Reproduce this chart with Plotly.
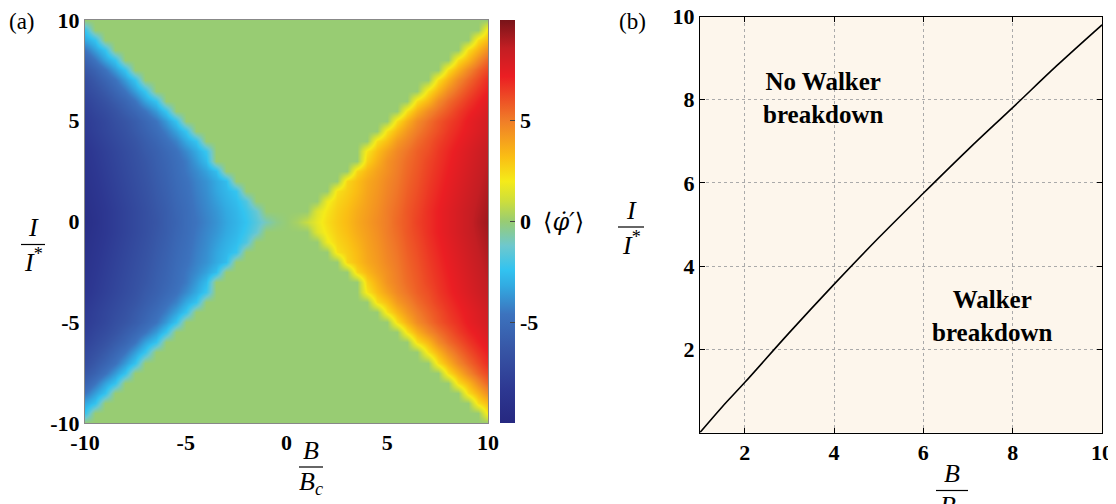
import plotly.graph_objects as go

# page body has an 8px margin: figure occupies window pixels 8..1116 x 8..504
OFF = 8
W, H = 1116 - OFF, 504 - OFF

# ---------------- data ----------------
# Panel (a): <phi'> read on a 0.5 grid, quadrant B>=0, I>=0 (picture is mirror symmetric)
B_quad = [0, 0.5, 1, 1.5, 2, 2.5, 3, 3.5, 4, 4.5, 5, 5.5, 6, 6.5, 7, 7.5, 8, 8.5, 9, 9.5, 10]
I_quad = [0, 0.5, 1, 1.5, 2, 2.5, 3, 3.5, 4, 4.5, 5, 5.5, 6, 6.5, 7, 7.5, 8, 8.5, 9, 9.5, 10]
phi_I00 = [0, 0.3, 0.9, 1.7, 2.4, 2.9, 3.3, 3.8, 4.2, 4.6, 5.0, 5.5, 5.9, 6.4, 6.8, 7.2, 7.6, 8.0, 8.4, 8.9, 9.3]
phi_I05 = [0, 0, 0, 1.4, 2.2, 2.8, 3.2, 3.7, 4.1, 4.5, 5.0, 5.4, 5.9, 6.3, 6.8, 7.2, 7.6, 8.0, 8.4, 8.8, 9.2]
phi_I10 = [0, 0, 0, 0, 1.8, 2.6, 3.0, 3.5, 4.0, 4.4, 4.9, 5.3, 5.8, 6.2, 6.7, 7.1, 7.5, 7.9, 8.3, 8.7, 9.1]
phi_I15 = [0, 0, 0, 0, 0, 2.3, 2.8, 3.3, 3.9, 4.3, 4.8, 5.2, 5.7, 6.1, 6.6, 7.0, 7.4, 7.8, 8.2, 8.6, 9.0]
phi_I20 = [0, 0, 0, 0, 0, 0, 2.6, 3.2, 3.8, 4.2, 4.7, 5.1, 5.6, 6.0, 6.5, 6.9, 7.3, 7.7, 8.1, 8.5, 8.9]
phi_I25 = [0, 0, 0, 0, 0, 0, 0, 2.6, 3.4, 4.0, 4.5, 5.0, 5.5, 5.9, 6.4, 6.8, 7.2, 7.6, 8.0, 8.4, 8.8]
phi_I30 = [0, 0, 0, 0, 0, 0, 0, 0, 2.7, 3.6, 4.4, 4.9, 5.4, 5.8, 6.3, 6.7, 7.1, 7.5, 7.9, 8.3, 8.7]
phi_I35 = [0, 0, 0, 0, 0, 0, 0, 0, 2.2, 3.2, 4.0, 4.7, 5.2, 5.7, 6.1, 6.6, 7.0, 7.4, 7.8, 8.2, 8.6]
phi_I40 = [0, 0, 0, 0, 0, 0, 0, 0, 0, 2.4, 3.2, 4.2, 4.8, 5.4, 5.9, 6.4, 6.8, 7.2, 7.6, 8.0, 8.4]
phi_I45 = [0, 0, 0, 0, 0, 0, 0, 0, 0, 0, 2.3, 3.4, 4.3, 5.0, 5.6, 6.1, 6.6, 7.0, 7.4, 7.8, 8.2]
phi_I50 = [0, 0, 0, 0, 0, 0, 0, 0, 0, 0, 0, 2.4, 3.6, 4.6, 5.3, 5.9, 6.4, 6.8, 7.3, 7.7, 8.1]
phi_I55 = [0, 0, 0, 0, 0, 0, 0, 0, 0, 0, 0, 0, 2.3, 3.6, 4.6, 5.3, 5.9, 6.5, 7.0, 7.4, 7.9]
phi_I60 = [0, 0, 0, 0, 0, 0, 0, 0, 0, 0, 0, 0, 0, 2.4, 3.4, 4.6, 5.4, 6.0, 6.6, 7.1, 7.6]
phi_I65 = [0, 0, 0, 0, 0, 0, 0, 0, 0, 0, 0, 0, 0, 0, 2.3, 3.5, 4.6, 5.4, 6.1, 6.7, 7.2]
phi_I70 = [0, 0, 0, 0, 0, 0, 0, 0, 0, 0, 0, 0, 0, 0, 0, 2.4, 3.6, 4.7, 5.5, 6.2, 6.9]
phi_I75 = [0, 0, 0, 0, 0, 0, 0, 0, 0, 0, 0, 0, 0, 0, 0, 0, 2.4, 3.6, 4.7, 5.6, 6.3]
phi_I80 = [0, 0, 0, 0, 0, 0, 0, 0, 0, 0, 0, 0, 0, 0, 0, 0, 0, 2.4, 3.4, 4.6, 5.6]
phi_I85 = [0, 0, 0, 0, 0, 0, 0, 0, 0, 0, 0, 0, 0, 0, 0, 0, 0, 0, 2.4, 3.5, 4.6]
phi_I90 = [0, 0, 0, 0, 0, 0, 0, 0, 0, 0, 0, 0, 0, 0, 0, 0, 0, 0, 0, 2.4, 3.3]
phi_I95 = [0, 0, 0, 0, 0, 0, 0, 0, 0, 0, 0, 0, 0, 0, 0, 0, 0, 0, 0, 0, 2.3]
phi_I100 = [0, 0, 0, 0, 0, 0, 0, 0, 0, 0, 0, 0, 0, 0, 0, 0, 0, 0, 0, 0, 0]
phi_rows = [phi_I00, phi_I05, phi_I10, phi_I15, phi_I20, phi_I25, phi_I30,
            phi_I35, phi_I40, phi_I45, phi_I50, phi_I55, phi_I60, phi_I65,
            phi_I70, phi_I75, phi_I80, phi_I85, phi_I90, phi_I95, phi_I100]

# Panel (b): Walker breakdown threshold
B_line = [1, 1.5, 2, 3, 4, 5, 6, 7, 8, 9, 10]
I_line = [0, 0.62, 1.2, 2.4, 3.56, 4.68, 5.75, 6.8, 7.81, 8.83, 9.8]

cbar_ticks = [-5, 0, 5]
a_ticks = [-10, -5, 0, 5, 10]
b_ticks = [2, 4, 6, 8, 10]

# ---------------- build full grid by mirroring ----------------
B_full = [-b for b in reversed(B_quad[1:])] + B_quad
I_full = [-i for i in reversed(I_quad[1:])] + I_quad
rows_full = list(reversed(phi_rows[1:])) + phi_rows
z = []
for r in rows_full:
    z.append([-v for v in reversed(r[1:])] + r)

jet_muted = [
    [0.00, "rgb(38,40,128)"],
    [0.08, "rgb(45,55,145)"],
    [0.18, "rgb(55,85,165)"],
    [0.27, "rgb(60,115,190)"],
    [0.34, "rgb(50,170,225)"],
    [0.38, "rgb(50,195,240)"],
    [0.44, "rgb(110,200,205)"],
    [0.50, "rgb(152,204,115)"],
    [0.55, "rgb(205,222,60)"],
    [0.60, "rgb(245,235,25)"],
    [0.66, "rgb(250,190,20)"],
    [0.75, "rgb(240,125,40)"],
    [0.86, "rgb(235,30,35)"],
    [0.93, "rgb(195,30,35)"],
    [1.00, "rgb(120,20,25)"],
]

def px_x(p):
    return (p - OFF) / W

def px_y(p):
    return 1 - (p - OFF) / H

fig = go.Figure()

fig.add_trace(go.Heatmap(
    x=B_full, y=I_full, z=z, zmin=-10, zmax=10, zsmooth="best",
    colorscale=jet_muted, xaxis="x", yaxis="y",
    colorbar=dict(
        x=px_x(500), xanchor="left", thickness=15, xpad=0, ypad=0,
        lenmode="fraction", len=403 / H, y=px_y(221.5), yanchor="middle",
        outlinewidth=0, tickvals=cbar_ticks, ticktext=[str(t) for t in cbar_ticks],
        ticks="inside", ticklen=5, tickcolor="#444",
        tickfont=dict(family="Liberation Serif", size=22, color="black", weight="bold"),
    ),
))

fig.add_trace(go.Scatter(
    x=B_line, y=I_line, mode="lines", line=dict(color="black", width=1.6, shape="spline"),
    xaxis="x2", yaxis="y2", showlegend=False,
))

tickfont = dict(family="Liberation Serif", size=22, color="black", weight="bold")
common = dict(tickfont=tickfont, zeroline=False, showline=True, linewidth=1,
              automargin=False, ticklabeloverflow="allow")

fig.update_layout(
    width=W, height=H, margin=dict(l=0, r=0, t=0, b=0, autoexpand=False),
    paper_bgcolor="white", plot_bgcolor="white", showlegend=False,
    xaxis=dict(domain=[px_x(85), px_x(488)], range=[-10, 10], tickvals=a_ticks,
               ticktext=[str(t) for t in a_ticks], showgrid=False,
               linecolor="#888", mirror=True, ticks="", anchor="y", **common),
    yaxis=dict(domain=[px_y(423), px_y(20)], range=[-10, 10], tickvals=a_ticks,
               ticktext=[str(t) for t in a_ticks], showgrid=False,
               linecolor="#888", mirror=True, ticks="", anchor="x", **common),
    xaxis2=dict(domain=[px_x(700), px_x(1102)], range=[1, 10], tickvals=b_ticks,
                ticktext=[str(t) for t in b_ticks],
                showgrid=True, gridcolor="#aaa", griddash="dot", gridwidth=1,
                linecolor="black", mirror="ticks",
                ticks="inside", ticklen=5, tickcolor="black", anchor="y2", **common),
    yaxis2=dict(domain=[px_y(432.5), px_y(16.5)], range=[0, 10], tickvals=b_ticks,
                ticktext=[str(t) for t in b_ticks],
                showgrid=True, gridcolor="#aaa", griddash="dot", gridwidth=1,
                linecolor="black", mirror="ticks",
                ticks="inside", ticklen=5, tickcolor="black", anchor="x2", **common),
)

# cream background of panel (b)
fig.add_shape(type="rect", xref="x2 domain", yref="y2 domain", x0=0, x1=1, y0=0, y1=1,
              fillcolor="#FDF6EC", line=dict(width=0), layer="below")

ann = []
serif = "Liberation Serif"

def text(x, y, s, size=24, family=serif, **kw):
    ann.append(dict(x=px_x(x), y=px_y(y), xref="paper", yref="paper", text=s,
                    showarrow=False, font=dict(family=family, size=size, color="black"),
                    xanchor="center", yanchor="middle", **kw))

def frac(xc, ybar, num, den, half):
    text(xc, ybar - 17, num, 26)
    text(xc, ybar + 16, den, 26)
    fig.add_shape(type="line", xref="paper", yref="paper",
                  x0=px_x(xc - half), x1=px_x(xc + half), y0=px_y(ybar), y1=px_y(ybar),
                  line=dict(color="black", width=1.2))

text(22, 21, "(a)", 23)
text(632, 22, "(b)", 23)

frac(33, 244.5, "<i>I</i>", "<i>I</i><sup>*</sup>", 12)
frac(311, 467, "<i>B</i>", "<i>B</i><sub><i>c</i></sub>", 12)
frac(631, 227, "<i>I</i>", "<i>I</i><sup>*</sup>", 13)
frac(952, 490.5, "<i>B</i>", "<i>B</i><sub><i>c</i></sub>", 16)

text(563, 222, "⟨<i>φ̇′</i>⟩", 24, family="DejaVu Serif")

ann.append(dict(x=3.76, y=8.05, xref="x2", yref="y2",
                text="<b>No Walker<br>breakdown</b>", showarrow=False,
                font=dict(family=serif, size=25, color="black"), align="center"))
ann.append(dict(x=7.54, y=2.8, xref="x2", yref="y2",
                text="<b>Walker<br>breakdown</b>", showarrow=False,
                font=dict(family=serif, size=25, color="black"), align="center"))

fig.update_layout(annotations=ann)

fig.write_html("out.html")
